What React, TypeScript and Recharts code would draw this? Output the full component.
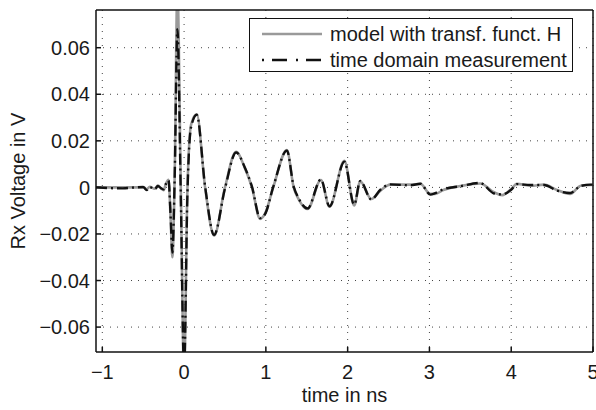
import { LineChart, Line, XAxis, YAxis, CartesianGrid, Label } from "recharts";

// time axis in ns, shared by both traces
const times = [
  -1.077, -0.9, -0.75, -0.6, -0.5, -0.457, -0.42, -0.36, -0.32, -0.28, -0.25, -0.22, -0.19, -0.165, -0.143,
  -0.115, -0.082, -0.04, 0, 0.04, 0.086, 0.155, 0.257, 0.367, 0.5, 0.636, 0.74, 0.83, 0.93, 0.99, 1.09,
  1.257, 1.34, 1.4, 1.51, 1.673, 1.778, 1.96, 2.08, 2.154, 2.29, 2.4, 2.52, 2.77, 2.89, 3.01, 3.07, 3.17,
  3.38, 3.62, 3.79, 3.89, 4.0, 4.07, 4.24, 4.4, 4.56, 4.72, 4.85, 4.97, 5.0,
];

// model with transfer function H (V)
const modelH = [
  0, 0, 0, 0, 0, -0.0008, 0.0003, -0.0006, 0.0008, -0.0005, -0.0012, 0.0018, 0.0033, -0.013, -0.03,
  0.005, 0.085, 0, -0.08, -0.002, 0.027, 0.0314, 0, -0.0207, 0, 0.0153, 0.0086, 0, -0.0135, -0.0113, 0,
  0.016, 0, -0.005, -0.0093, 0.0032, -0.0083, 0.0114, -0.0078, 0.0026, -0.005, -0.0014, 0.0012, 0.0012,
  0.0015, -0.0028, -0.0028, -0.0011, 0.0006, 0.0017, -0.0021, -0.0033, -0.0007, 0.0015, 0.0007, 0.0012,
  -0.0011, -0.0028, 0.0007, 0.001, 0.001,
];

// time domain measurement (V)
const measured = [
  0, -0.0003, -0.0004, 0, 0.0002, -0.0011, 0.0002, -0.0009, 0.0006, -0.0004, -0.0008, 0.0016, 0.003, -0.012,
  -0.028, 0.004, 0.068, -0.004, -0.078, -0.004, 0.026, 0.0312, 0.0005, -0.0204, -0.0005, 0.015, 0.0088,
  0.0003, -0.0132, -0.0115, 0.0002, 0.0158, 0.0004, -0.0046, -0.009, 0.0034, -0.0081, 0.011, -0.0074,
  0.0028, -0.0052, -0.001, 0.0013, 0.0009, 0.0016, -0.0031, -0.0025, -0.0008, 0.0005, 0.0019, -0.0026,
  -0.003, -0.001, 0.0014, 0.001, 0.001, -0.0014, -0.0024, 0.0006, 0.0012, 0.0012,
];

const xTicks = [-1, 0, 1, 2, 3, 4, 5];
const yTicks = [-0.06, -0.04, -0.02, 0, 0.02, 0.04, 0.06];

const data = times.map((t, i) => ({ t, model: modelH[i], meas: measured[i] }));

const FONT = "'Liberation Sans', Arial, Helvetica, sans-serif";
const tickStyle = { fill: "#1a1a1a", fontSize: 20, fontFamily: FONT };
const axisStroke = { stroke: "#111", strokeWidth: 1.5 };

const fmtX = (v: number) => (v < 0 ? `\u2212${Math.abs(v)}` : String(v));
const fmtY = (v: number) => {
  if (Math.abs(v) < 1e-9) return "0";
  return (v < 0 ? "\u2212" : "") + Math.abs(v).toFixed(2);
};

export default function App() {
  return (
    <div style={{ position: "absolute", left: 0, top: 0, width: 596, height: 410, background: "#fff" }}>
      <LineChart width={596} height={410} data={data} margin={{ top: 9, right: 2, bottom: 0, left: 0 }}>
        <CartesianGrid stroke="#444" strokeDasharray="1 6" horizontalValues={yTicks} verticalValues={xTicks} />
        <XAxis
          dataKey="t"
          type="number"
          domain={[-1.077, 5]}
          ticks={xTicks}
          allowDataOverflow
          tickFormatter={fmtX}
          tick={tickStyle}
          tickSize={-5}
          tickMargin={18}
          axisLine={axisStroke}
          tickLine={axisStroke}
          height={58}
          interval={0}
        >
          <Label value="time in ns" position="insideBottom" offset={8} style={{ fill: "#1a1a1a", fontSize: 20, fontFamily: FONT }} />
        </XAxis>
        <XAxis
          xAxisId="top"
          orientation="top"
          dataKey="t"
          type="number"
          domain={[-1.077, 5]}
          ticks={xTicks}
          allowDataOverflow
          tick={false}
          tickSize={-5}
          axisLine={axisStroke}
          tickLine={axisStroke}
          height={1}
          interval={0}
        />
        <YAxis
          type="number"
          domain={[-0.0707, 0.0762]}
          ticks={yTicks}
          allowDataOverflow
          tickFormatter={fmtY}
          tick={tickStyle}
          tickSize={-5}
          tickMargin={11}
          axisLine={axisStroke}
          tickLine={axisStroke}
          width={96}
          interval={0}
        >
          <Label
            value="Rx Voltage in V"
            angle={-90}
            position="center"
            dx={-30}
            style={{ fill: "#1a1a1a", fontSize: 20, fontFamily: FONT, textAnchor: "middle" }}
          />
        </YAxis>
        <YAxis
          yAxisId="right"
          orientation="right"
          type="number"
          domain={[-0.0707, 0.0762]}
          ticks={yTicks}
          allowDataOverflow
          tick={false}
          tickSize={-5}
          axisLine={axisStroke}
          tickLine={axisStroke}
          width={1}
          interval={0}
        />
        <Line
          type="monotone"
          dataKey="model"
          name="model with transf. funct. H"
          stroke="#9a9a9a"
          strokeWidth={2.6}
          dot={false}
          isAnimationActive={false}
        />
        <Line
          type="monotone"
          dataKey="meas"
          name="time domain measurement"
          stroke="#111"
          strokeWidth={2.4}
          strokeDasharray="11 4 2 4"
          dot={false}
          isAnimationActive={false}
        />
      </LineChart>
      <div
        style={{
          position: "absolute",
          left: 249,
          top: 18,
          width: 322,
          height: 52,
          border: "1.5px solid #111",
          background: "#fff",
          fontFamily: FONT,
          fontSize: 20,
          color: "#1a1a1a",
        }}
      >
        <div style={{ position: "absolute", left: 12, top: 3, display: "flex", alignItems: "center", height: 24 }}>
          <svg width={62} height={6} style={{ marginRight: 6 }}>
            <line x1={0} y1={3} x2={60} y2={3} stroke="#9a9a9a" strokeWidth={2.6} />
          </svg>
          <span style={{ whiteSpace: "nowrap" }}>model with transf. funct. H</span>
        </div>
        <div style={{ position: "absolute", left: 12, top: 29, display: "flex", alignItems: "center", height: 24 }}>
          <svg width={62} height={6} style={{ marginRight: 6 }}>
            <line x1={0} y1={3} x2={60} y2={3} stroke="#111" strokeWidth={2.4} strokeDasharray="2 8 15 9" />
          </svg>
          <span style={{ whiteSpace: "nowrap" }}>time domain measurement</span>
        </div>
      </div>
    </div>
  );
}
